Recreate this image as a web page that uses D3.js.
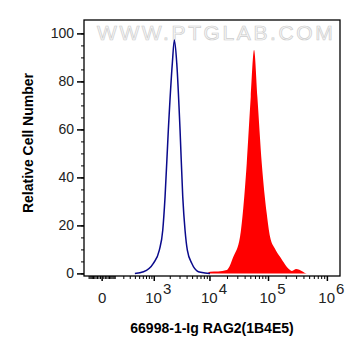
<!DOCTYPE html>
<html>
<head>
<meta charset="utf-8">
<script src="https://cdnjs.cloudflare.com/ajax/libs/d3/7.8.5/d3.min.js"></script>
<style>
  body { margin: 0; background: #fff; }
  text { font-family: "Liberation Sans", Arial, sans-serif; }
</style>
</head>
<body>
<script>
var svgW = 361;
var svgH = 356;

// isotype control (blue outline)
var isoX = [400, 620, 982, 1281, 1485, 1640, 1884, 2229, 2423, 2676, 3065, 3422, 3758, 4125, 4928, 6425, 8390, 10240];
var isoY = [0, 0.7, 4.2, 9.7, 18, 32, 59.8, 87.6, 97.2, 87.6, 59.8, 32, 18, 9.7, 4.2, 0.7, 0.2, 0];

// RAG2 stained sample (red fill)
var ragX = [-149, 9000, 10240, 14050, 19810, 25680, 33400, 37150, 43460, 50850, 57870, 65870, 78250, 95150, 108300, 130000, 160100, 236800, 256000, 299600, 340000, 455300, 1670000];
var ragY = [0, 0, 0.7, 0.8, 1.4, 6.9, 15.3, 25, 45.9, 73.6, 93.1, 73.6, 45.9, 25, 15.3, 10.5, 6.9, 1.4, 1.0, 1.8, 1.5, 0, 0];

var yTicks = [0, 20, 40, 60, 80, 100];
var xTicks = [0, 1e3, 1e4, 1e5, 1e6];
var xTickBase = ["0", "10", "10", "10", "10"];
var xTickExp = ["", "3", "4", "5", "6"];

var plotL = 84, plotR = 340, plotT = 20, plotB = 276;

var xScale = d3.scaleSymlog()
               .constant(150)
               .domain([-149, 1670000])
               .range([plotL, plotR]);

var yScale = d3.scaleLinear()
               .domain([0, 100])
               .range([273.4, 33.4]);

// minor ticks
var xMinor = [];
for (var k = 10; k < 100; k += 10) { xMinor.push(k); xMinor.push(-k); }
xMinor.push(-100);
[100, 1000, 10000, 100000].forEach(function(dec) {
  for (var m = 1; m < 10; m++) { if (dec * m !== 1000 && dec * m !== 10000 && dec * m !== 100000) xMinor.push(dec * m); }
});
var yMinor = d3.range(0, 101, 5);

var svg = d3.select("body")
            .append("svg")
            .attr("width", svgW)
            .attr("height", svgH);

// watermark
svg.append("text")
   .attr("x", 97)
   .attr("y", 40)
   .attr("font-size", 21)
   .attr("letter-spacing", 2.6)
   .attr("fill", "#f8f8f8")
   .attr("stroke", "#cdcdcd")
   .attr("stroke-width", 0.7)
   .text("WWW.PTGLAB.COM");

var area = d3.area()
             .x(function(d) { return xScale(d[0]); })
             .y0(yScale(0))
             .y1(function(d) { return yScale(d[1]); })
             .curve(d3.curveMonotoneX);

var line = d3.line()
             .x(function(d) { return xScale(d[0]); })
             .y(function(d) { return yScale(d[1]); })
             .curve(d3.curveMonotoneX);

svg.append("path")
   .datum(d3.zip(ragX, ragY))
   .attr("d", area)
   .attr("fill", "#ff0000")
   .attr("stroke", "none");

svg.append("path")
   .datum(d3.zip(isoX, isoY))
   .attr("d", line)
   .attr("fill", "none")
   .attr("stroke", "#0a0a8c")
   .attr("stroke-width", 1.5);

// frame
svg.append("rect")
   .attr("x", plotL)
   .attr("y", plotT)
   .attr("width", plotR - plotL)
   .attr("height", plotB - plotT)
   .attr("fill", "none")
   .attr("stroke", "#000")
   .attr("stroke-width", 1.3);

// y axis
var yAxis = svg.append("g")
               .attr("transform", "translate(" + plotL + ",0)")
               .call(d3.axisLeft(yScale).tickValues(yTicks).tickSize(7).tickPadding(3));
svg.append("g")
   .attr("transform", "translate(" + plotL + ",0)")
   .call(d3.axisLeft(yScale).tickValues(yMinor).tickSize(3).tickFormat(""))
   .select(".domain").remove();
yAxis.select(".domain").remove();
yAxis.selectAll("line").attr("stroke-width", 1.5);
yAxis.selectAll("text")
     .attr("font-size", 14)
     .attr("fill", "#222")
     .attr("font-family", "Liberation Sans, Arial, sans-serif");

// x axis
var xAxis = svg.append("g")
               .attr("transform", "translate(0," + plotB + ")")
               .call(d3.axisBottom(xScale).tickValues(xTicks).tickSize(5).tickFormat(""));
svg.append("g")
   .attr("transform", "translate(0," + plotB + ")")
   .call(d3.axisBottom(xScale).tickValues(xMinor).tickSize(3).tickFormat(""))
   .select(".domain").remove();
xAxis.select(".domain").remove();
xAxis.selectAll("line").attr("stroke-width", 1.5);

var xLab = xAxis.selectAll(".tick")
                .append("text")
                .attr("fill", "#222")
                .attr("font-size", 15)
                .attr("text-anchor", "middle")
                .attr("x", function(d, i) { return i === 0 ? 0 : 4; })
                .attr("y", 27);
xLab.append("tspan")
    .text(function(d, i) { return xTickBase[i]; });
xLab.append("tspan")
    .attr("dx", 1)
    .attr("dy", -9)
    .text(function(d, i) { return xTickExp[i]; });

// titles
svg.append("text")
   .attr("transform", "translate(33,143) rotate(-90)")
   .attr("text-anchor", "middle")
   .attr("font-size", 14)
   .attr("font-weight", "bold")
   .text("Relative Cell Number");

svg.append("text")
   .attr("x", 212)
   .attr("y", 333)
   .attr("text-anchor", "middle")
   .attr("font-size", 14)
   .attr("font-weight", "bold")
   .text("66998-1-Ig RAG2(1B4E5)");
</script>
</body>
</html>
